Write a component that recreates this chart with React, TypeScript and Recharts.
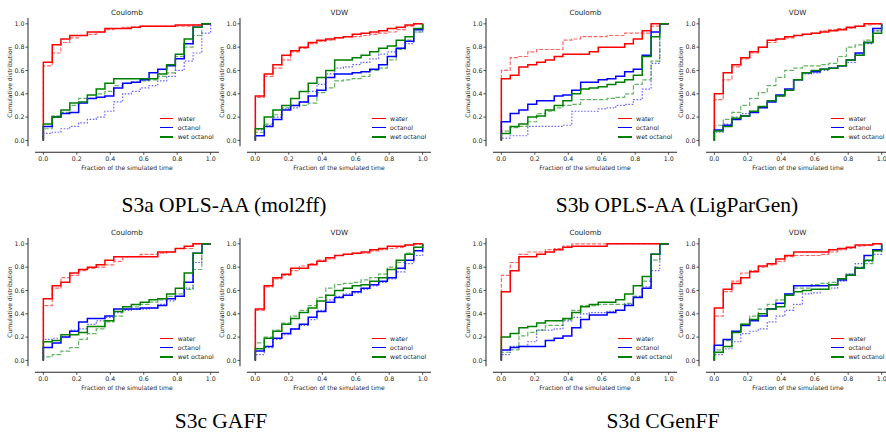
import React from 'react';
import { LineChart, Line, XAxis, YAxis, ReferenceLine, Legend } from 'recharts';

// ---------- shared categories / labels ----------
const timeFractions = [0, 0.053, 0.105, 0.158, 0.211, 0.263, 0.316, 0.368, 0.421, 0.474, 0.526, 0.579, 0.632, 0.684, 0.737, 0.789, 0.842, 0.895, 0.947, 1.0];
const axisTicks = [0, 0.2, 0.4, 0.6, 0.8, 1.0];
const legendNames = ['water', 'octanol', 'wet octanol'];
const panelTitles = ['Coulomb', 'VDW'];
const captions = ['S3a OPLS-AA (mol2ff)', 'S3b OPLS-AA (LigParGen)', 'S3c GAFF', 'S3d CGenFF'];

// ---------- S3a OPLS-AA (mol2ff) ----------
const aCoulWater = [0.67, 0.82, 0.87, 0.90, 0.90, 0.93, 0.93, 0.96, 0.96, 0.96, 0.97, 0.98, 0.98, 0.98, 0.98, 0.99, 0.99, 0.99, 1.0, 1.0];
const aCoulWaterD = [0.64, 0.75, 0.84, 0.88, 0.90, 0.91, 0.93, 0.95, 0.96, 0.97, 0.97, 0.98, 0.98, 0.98, 0.98, 0.98, 0.98, 0.99, 1.0, 1.0];
const aCoulOct = [0.12, 0.20, 0.23, 0.24, 0.32, 0.36, 0.37, 0.38, 0.45, 0.49, 0.50, 0.52, 0.58, 0.61, 0.64, 0.70, 0.83, 0.97, 1.0, 1.0];
const aCoulOctD = [0.06, 0.07, 0.10, 0.12, 0.15, 0.18, 0.20, 0.25, 0.33, 0.40, 0.42, 0.45, 0.47, 0.51, 0.55, 0.60, 0.68, 0.75, 0.92, 1.0];
const aCoulWet = [0.14, 0.20, 0.26, 0.32, 0.33, 0.39, 0.44, 0.49, 0.53, 0.53, 0.53, 0.53, 0.53, 0.57, 0.65, 0.74, 0.87, 0.97, 1.0, 1.0];
const aCoulWetD = [0.10, 0.21, 0.24, 0.30, 0.36, 0.36, 0.40, 0.42, 0.47, 0.49, 0.50, 0.51, 0.52, 0.55, 0.58, 0.72, 0.80, 0.90, 1.0, 1.0];

const aVdwWater = [0.38, 0.57, 0.65, 0.73, 0.77, 0.80, 0.84, 0.86, 0.87, 0.88, 0.89, 0.91, 0.92, 0.93, 0.94, 0.96, 0.97, 0.99, 1.0, 1.0];
const aVdwWaterD = [0.37, 0.55, 0.62, 0.69, 0.76, 0.79, 0.83, 0.85, 0.86, 0.88, 0.89, 0.89, 0.90, 0.91, 0.92, 0.93, 0.95, 0.98, 1.0, 1.0];
const aVdwOct = [0.04, 0.12, 0.18, 0.26, 0.30, 0.33, 0.38, 0.43, 0.54, 0.57, 0.57, 0.58, 0.59, 0.61, 0.65, 0.72, 0.79, 0.85, 0.95, 1.0];
const aVdwOctD = [0.09, 0.13, 0.20, 0.27, 0.28, 0.33, 0.42, 0.48, 0.57, 0.62, 0.63, 0.65, 0.67, 0.70, 0.74, 0.76, 0.79, 0.83, 0.93, 1.0];
const aVdwWet = [0.10, 0.20, 0.26, 0.30, 0.36, 0.42, 0.49, 0.54, 0.60, 0.69, 0.69, 0.71, 0.73, 0.76, 0.79, 0.81, 0.86, 0.89, 0.96, 1.0];
const aVdwWetD = [0.07, 0.14, 0.22, 0.28, 0.30, 0.30, 0.32, 0.41, 0.45, 0.51, 0.52, 0.53, 0.55, 0.60, 0.62, 0.69, 0.78, 0.86, 0.93, 1.0];

// ---------- S3b OPLS-AA (LigParGen) ----------
const bCoulWater = [0.53, 0.56, 0.63, 0.65, 0.67, 0.69, 0.72, 0.74, 0.74, 0.74, 0.76, 0.80, 0.80, 0.80, 0.83, 0.87, 0.94, 1.0, 1.0, 1.0];
const bCoulWaterD = [0.60, 0.71, 0.72, 0.76, 0.78, 0.78, 0.78, 0.86, 0.87, 0.89, 0.89, 0.89, 0.90, 0.90, 0.92, 0.92, 0.92, 0.98, 1.0, 1.0];
const bCoulOct = [0.16, 0.23, 0.26, 0.31, 0.34, 0.34, 0.38, 0.39, 0.43, 0.50, 0.50, 0.52, 0.53, 0.55, 0.59, 0.61, 0.73, 0.93, 1.0, 1.0];
const bCoulOctD = [0.02, 0.04, 0.04, 0.12, 0.12, 0.12, 0.12, 0.13, 0.25, 0.25, 0.25, 0.27, 0.28, 0.30, 0.31, 0.35, 0.44, 0.66, 1.0, 1.0];
const bCoulWet = [0.06, 0.12, 0.14, 0.20, 0.21, 0.26, 0.30, 0.34, 0.40, 0.44, 0.45, 0.46, 0.48, 0.50, 0.52, 0.56, 0.72, 0.89, 1.0, 1.0];
const bCoulWetD = [0.08, 0.11, 0.12, 0.16, 0.23, 0.25, 0.28, 0.30, 0.31, 0.35, 0.35, 0.35, 0.36, 0.37, 0.40, 0.48, 0.52, 0.68, 1.0, 1.0];

const bVdwWater = [0.40, 0.58, 0.65, 0.71, 0.76, 0.80, 0.86, 0.87, 0.89, 0.90, 0.91, 0.92, 0.93, 0.94, 0.95, 0.97, 0.98, 1.0, 1.0, 1.0];
const bVdwWaterD = [0.35, 0.52, 0.63, 0.70, 0.75, 0.80, 0.84, 0.87, 0.88, 0.90, 0.91, 0.92, 0.94, 0.95, 0.96, 0.96, 0.98, 0.99, 1.0, 1.0];
const bVdwOct = [0.09, 0.13, 0.18, 0.21, 0.24, 0.28, 0.33, 0.39, 0.44, 0.52, 0.58, 0.59, 0.61, 0.62, 0.64, 0.69, 0.75, 0.84, 0.96, 1.0];
const bVdwOctD = [0.07, 0.14, 0.20, 0.23, 0.25, 0.29, 0.34, 0.38, 0.43, 0.52, 0.57, 0.58, 0.60, 0.62, 0.64, 0.67, 0.74, 0.83, 0.94, 1.0];
const bVdwWet = [0.08, 0.12, 0.19, 0.21, 0.25, 0.29, 0.34, 0.38, 0.43, 0.52, 0.58, 0.60, 0.61, 0.62, 0.64, 0.69, 0.73, 0.84, 0.92, 1.0];
const bVdwWetD = [0.13, 0.18, 0.24, 0.30, 0.36, 0.41, 0.47, 0.54, 0.60, 0.62, 0.64, 0.64, 0.65, 0.66, 0.72, 0.80, 0.82, 0.86, 0.94, 1.0];

// ---------- S3c GAFF ----------
const cCoulWater = [0.53, 0.64, 0.67, 0.75, 0.78, 0.80, 0.82, 0.86, 0.89, 0.89, 0.89, 0.89, 0.89, 0.93, 0.93, 0.96, 0.98, 1.0, 1.0, 1.0];
const cCoulWaterD = [0.47, 0.62, 0.71, 0.73, 0.77, 0.79, 0.80, 0.82, 0.85, 0.89, 0.89, 0.91, 0.91, 0.92, 0.93, 0.96, 0.96, 1.0, 1.0, 1.0];
const cCoulOct = [0.11, 0.15, 0.20, 0.25, 0.33, 0.36, 0.36, 0.38, 0.44, 0.44, 0.44, 0.45, 0.45, 0.47, 0.53, 0.55, 0.67, 0.92, 1.0, 1.0];
const cCoulOctD = [0.18, 0.19, 0.20, 0.26, 0.27, 0.31, 0.34, 0.37, 0.41, 0.43, 0.44, 0.44, 0.45, 0.48, 0.51, 0.55, 0.62, 0.84, 1.0, 1.0];
const cCoulWet = [0.16, 0.17, 0.22, 0.22, 0.24, 0.29, 0.29, 0.34, 0.42, 0.46, 0.48, 0.50, 0.52, 0.53, 0.57, 0.62, 0.75, 0.92, 1.0, 1.0];
const cCoulWetD = [0.03, 0.05, 0.08, 0.11, 0.18, 0.23, 0.27, 0.33, 0.38, 0.44, 0.46, 0.48, 0.50, 0.52, 0.55, 0.57, 0.61, 0.78, 1.0, 1.0];

const cVdwWater = [0.44, 0.64, 0.71, 0.74, 0.79, 0.79, 0.82, 0.85, 0.88, 0.90, 0.91, 0.92, 0.93, 0.95, 0.96, 0.98, 0.98, 0.99, 1.0, 1.0];
const cVdwWaterD = [0.43, 0.63, 0.70, 0.73, 0.77, 0.81, 0.83, 0.86, 0.87, 0.90, 0.91, 0.92, 0.92, 0.94, 0.95, 0.96, 0.97, 0.99, 1.0, 1.0];
const cVdwOct = [0.08, 0.12, 0.19, 0.23, 0.27, 0.31, 0.37, 0.42, 0.50, 0.54, 0.56, 0.59, 0.62, 0.65, 0.68, 0.71, 0.79, 0.86, 0.94, 1.0];
const cVdwOctD = [0.05, 0.11, 0.18, 0.22, 0.27, 0.30, 0.35, 0.43, 0.52, 0.55, 0.57, 0.58, 0.61, 0.64, 0.67, 0.70, 0.76, 0.83, 0.90, 1.0];
const cVdwWet = [0.10, 0.19, 0.25, 0.31, 0.36, 0.41, 0.45, 0.51, 0.56, 0.60, 0.62, 0.64, 0.65, 0.68, 0.71, 0.78, 0.86, 0.91, 0.97, 1.0];
const cVdwWetD = [0.15, 0.20, 0.26, 0.32, 0.38, 0.43, 0.47, 0.54, 0.62, 0.65, 0.66, 0.67, 0.69, 0.71, 0.74, 0.80, 0.84, 0.92, 0.97, 1.0];

// ---------- S3d CGenFF ----------
const dCoulWater = [0.59, 0.77, 0.89, 0.89, 0.91, 0.93, 0.95, 0.97, 0.98, 0.98, 0.98, 0.98, 1.0, 1.0, 1.0, 1.0, 1.0, 1.0, 1.0, 1.0];
const dCoulWaterD = [0.73, 0.84, 0.91, 0.93, 0.93, 0.95, 0.96, 0.98, 1.0, 1.0, 1.0, 1.0, 1.0, 1.0, 1.0, 1.0, 1.0, 1.0, 1.0, 1.0];
const dCoulOct = [0.09, 0.11, 0.12, 0.12, 0.12, 0.17, 0.19, 0.21, 0.28, 0.35, 0.39, 0.39, 0.41, 0.43, 0.47, 0.54, 0.62, 0.91, 1.0, 1.0];
const dCoulOctD = [0.05, 0.12, 0.12, 0.16, 0.26, 0.26, 0.27, 0.34, 0.37, 0.40, 0.41, 0.41, 0.42, 0.43, 0.48, 0.55, 0.63, 0.77, 1.0, 1.0];
const dCoulWet = [0.20, 0.23, 0.28, 0.29, 0.32, 0.34, 0.34, 0.36, 0.41, 0.46, 0.48, 0.50, 0.50, 0.52, 0.57, 0.64, 0.72, 0.91, 1.0, 1.0];
const dCoulWetD = [0.07, 0.09, 0.21, 0.24, 0.26, 0.30, 0.30, 0.35, 0.43, 0.47, 0.47, 0.48, 0.48, 0.48, 0.49, 0.55, 0.68, 0.86, 1.0, 1.0];

const dVdwWater = [0.45, 0.61, 0.66, 0.71, 0.76, 0.81, 0.83, 0.87, 0.90, 0.93, 0.93, 0.93, 0.93, 0.95, 0.96, 0.97, 0.99, 0.99, 1.0, 1.0];
const dVdwWaterD = [0.38, 0.59, 0.68, 0.75, 0.77, 0.80, 0.82, 0.85, 0.89, 0.90, 0.90, 0.90, 0.91, 0.93, 0.95, 0.96, 0.98, 0.99, 1.0, 1.0];
const dVdwOct = [0.13, 0.18, 0.25, 0.30, 0.34, 0.38, 0.44, 0.49, 0.57, 0.64, 0.64, 0.64, 0.64, 0.65, 0.69, 0.73, 0.79, 0.90, 0.95, 1.0];
const dVdwOctD = [0.05, 0.10, 0.16, 0.23, 0.25, 0.27, 0.33, 0.38, 0.43, 0.48, 0.57, 0.58, 0.61, 0.62, 0.68, 0.74, 0.83, 0.85, 0.91, 1.0];
const dVdwWet = [0.07, 0.12, 0.24, 0.31, 0.35, 0.40, 0.44, 0.46, 0.56, 0.59, 0.60, 0.61, 0.61, 0.65, 0.70, 0.73, 0.79, 0.86, 0.94, 1.0];
const dVdwWetD = [0.09, 0.17, 0.25, 0.31, 0.38, 0.44, 0.48, 0.52, 0.57, 0.62, 0.62, 0.65, 0.66, 0.67, 0.70, 0.74, 0.80, 0.83, 0.94, 1.0];

// ---------- geometry / style ----------
const UX = 167.3; // px per x unit
const UY = 116.6; // px per y unit
const OX = 7; // y-spine offset (px)
const OY = 6; // x-spine offset (px)
const YW = 26;
const XH = 26;
const MT = 22;
const MR = 6;
const X_MIN = -0.05 - OX / UX;
const Y_MIN = -0.05 - OY / UY;
const PLOT_W = 1.1 * UX + OX;
const PLOT_H = 1.1 * UY + OY;
const CHART_W = YW + PLOT_W + MR;
const CHART_H = MT + PLOT_H + XH;
const INK = '#262626';
const FONT = 'DejaVu Sans, sans-serif';

const COLORS = ['#ff0000', '#0000ff', '#008000'];
const DASHES = ['4 1.6', '1.6 1.6', '4.5 1.8'];

type PanelDef = { title: string; x0: number; y1: number; series: number[][] };

const panels: PanelDef[] = [
  { title: panelTitles[0], x0: 43.3, y1: 23.7, series: [aCoulWater, aCoulWaterD, aCoulOct, aCoulOctD, aCoulWet, aCoulWetD] },
  { title: panelTitles[1], x0: 255.7, y1: 23.7, series: [aVdwWater, aVdwWaterD, aVdwOct, aVdwOctD, aVdwWet, aVdwWetD] },
  { title: panelTitles[0], x0: 501.7, y1: 23.7, series: [bCoulWater, bCoulWaterD, bCoulOct, bCoulOctD, bCoulWet, bCoulWetD] },
  { title: panelTitles[1], x0: 714, y1: 23.7, series: [bVdwWater, bVdwWaterD, bVdwOct, bVdwOctD, bVdwWet, bVdwWetD] },
  { title: panelTitles[0], x0: 43.3, y1: 243.7, series: [cCoulWater, cCoulWaterD, cCoulOct, cCoulOctD, cCoulWet, cCoulWetD] },
  { title: panelTitles[1], x0: 255.7, y1: 243.7, series: [cVdwWater, cVdwWaterD, cVdwOct, cVdwOctD, cVdwWet, cVdwWetD] },
  { title: panelTitles[0], x0: 501.7, y1: 243.7, series: [dCoulWater, dCoulWaterD, dCoulOct, dCoulOctD, dCoulWet, dCoulWetD] },
  { title: panelTitles[1], x0: 714, y1: 243.7, series: [dVdwWater, dVdwWaterD, dVdwOct, dVdwOctD, dVdwWet, dVdwWetD] },
];

const KEYS = ['ws', 'wd', 'os', 'od', 'gs', 'gd'];

function buildRows(series: number[][]) {
  const start: Record<string, number> = { x: 0 };
  KEYS.forEach((k) => (start[k] = 0));
  const rows: Record<string, number>[] = [start];
  timeFractions.forEach((x, i) => {
    const r: Record<string, number> = { x };
    KEYS.forEach((k, j) => (r[k] = series[j][i]));
    rows.push(r);
  });
  return rows;
}

const XLabel = (props: any) => {
  const vb = props.viewBox || { x: 0, y: 0 };
  const cx = vb.x + OX + 0.55 * UX;
  const cy = vb.y + 15;
  return (
    <text x={cx} y={cy} textAnchor="middle" dominantBaseline="central" fontSize={6.1} fontFamily={FONT} fill={INK}>
      Fraction of the simulated time
    </text>
  );
};

const YLabel = (props: any) => {
  const vb = props.viewBox || { x: 0, y: 0, width: YW };
  const cx = vb.x + vb.width - 18;
  const cy = vb.y + 0.55 * UY;
  return (
    <text x={cx} y={cy} transform={`rotate(-90 ${cx} ${cy})`} textAnchor="middle" dominantBaseline="central" fontSize={6.1} fontFamily={FONT} fill={INK}>
      Cumulative distribution
    </text>
  );
};

const LegendBox = (props: any) => {
  const all = (props.payload || []) as any[];
  const items = legendNames
    .map((n) => all.find((it) => it && it.value === n))
    .filter((it) => !!it);
  return (
    <div style={{ fontFamily: FONT, fontSize: 6.2, color: INK }}>
      {items.map((it: any, i: number) => (
        <div key={i} style={{ display: 'flex', alignItems: 'center', height: 9.3, whiteSpace: 'nowrap' }}>
          <div style={{ width: 13.3, height: 1.5, background: it.color, marginRight: 4.4 }} />
          <span style={{ lineHeight: '9.3px' }}>{it.value}</span>
        </div>
      ))}
    </div>
  );
};

const Panel = ({ def }: { def: PanelDef }) => {
  const rows = buildRows(def.series);
  const chartLeft = def.x0 - 0.05 * UX - OX - YW;
  const chartTop = def.y1 - 0.05 * UY - MT;
  const y0px = def.y1 + UY;
  const legendLeft = def.x0 + 116.7 - chartLeft;
  const legendTop = y0px - 22 - 4.65 - chartTop;
  const fmt = (v: number) => v.toFixed(1);
  return (
    <div style={{ position: 'absolute', left: chartLeft, top: chartTop, width: CHART_W, height: CHART_H }}>
      <LineChart width={CHART_W} height={CHART_H} data={rows} margin={{ top: MT, right: MR, bottom: 0, left: 0 }}>
        <XAxis
          dataKey="x"
          type="number"
          domain={[X_MIN, 1.05]}
          ticks={axisTicks}
          interval={0}
          allowDataOverflow
          tickFormatter={fmt}
          axisLine={false}
          tickLine={{ stroke: INK, strokeWidth: 0.8 }}
          tickSize={2.5}
          tickMargin={1.5}
          height={XH}
          tick={{ fontSize: 6.3, fill: INK, fontFamily: FONT }}
          label={<XLabel />}
        />
        <YAxis
          type="number"
          domain={[Y_MIN, 1.05]}
          ticks={axisTicks}
          interval={0}
          allowDataOverflow
          tickFormatter={fmt}
          axisLine={false}
          tickLine={{ stroke: INK, strokeWidth: 0.8 }}
          tickSize={2.5}
          tickMargin={1}
          width={YW}
          tick={{ fontSize: 6.3, fill: INK, fontFamily: FONT }}
          label={<YLabel />}
        />
        <ReferenceLine segment={[{ x: X_MIN, y: -0.05 }, { x: X_MIN, y: 1.05 }]} stroke={INK} strokeWidth={1} ifOverflow="visible" />
        <ReferenceLine segment={[{ x: -0.05, y: Y_MIN }, { x: 1.05, y: Y_MIN }]} stroke={INK} strokeWidth={1} ifOverflow="visible" />
        {[0, 1, 2].map((g) => (
          <Line
            key={'d' + g}
            dataKey={KEYS[g * 2 + 1]}
            type="stepAfter"
            stroke={COLORS[g]}
            strokeOpacity={0.6}
            strokeWidth={1.2}
            strokeDasharray={DASHES[g]}
            dot={false}
            activeDot={false}
            legendType="none"
            isAnimationActive={false}
          />
        ))}
        {[0, 1, 2].map((g) => (
          <Line
            key={'s' + g}
            dataKey={KEYS[g * 2]}
            name={legendNames[g]}
            type="stepAfter"
            stroke={COLORS[g]}
            strokeWidth={1.5}
            dot={false}
            activeDot={false}
            legendType="line"
            isAnimationActive={false}
          />
        ))}
        <Legend
          layout="vertical"
          align="center"
          verticalAlign="middle"
          content={<LegendBox />}
          wrapperStyle={{ left: legendLeft, top: legendTop, width: 70, height: 30 }}
        />
      </LineChart>
    </div>
  );
};

const captionPos = [
  { x: 224, y: 212 },
  { x: 677, y: 212 },
  { x: 221, y: 428 },
  { x: 663, y: 428 },
];

export default function App() {
  return (
    <div style={{ position: 'absolute', left: 0, top: 0, width: 886, height: 432, background: '#ffffff', overflow: 'hidden' }}>
      {panels.map((p, i) => (
        <Panel key={i} def={p} />
      ))}
      <svg width={886} height={432} style={{ position: 'absolute', left: 0, top: 0, pointerEvents: 'none' }}>
        {panels.map((p, i) => (
          <text key={'t' + i} x={p.x0 + 0.5 * UX} y={p.y1 - 11.4} textAnchor="middle" dominantBaseline="central" fontSize={7.2} fontFamily={FONT} fill={INK}>
            {p.title}
          </text>
        ))}
        {captions.map((c, i) => (
          <text key={'c' + i} x={captionPos[i].x} y={captionPos[i].y} textAnchor="middle" fontSize={21.5} fontFamily="Liberation Serif, Times New Roman, serif" fill="#000">
            {c}
          </text>
        ))}
      </svg>
    </div>
  );
}
